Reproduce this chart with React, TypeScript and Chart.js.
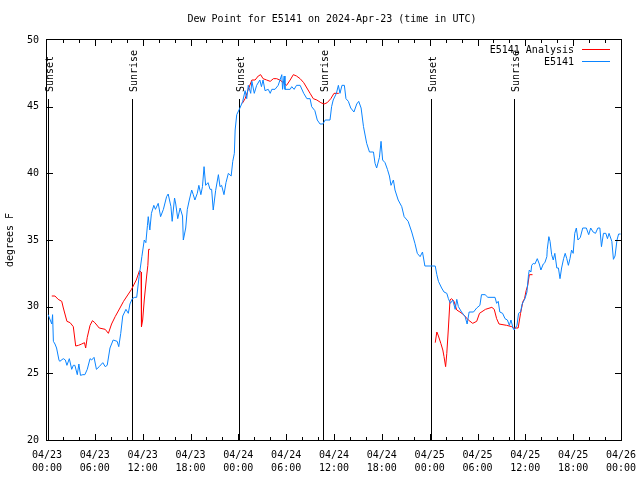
import React, { useEffect, useRef } from "react";
import { Chart, registerables } from "chart.js";

Chart.register(...registerables);

const TITLE = "Dew Point for E5141 on 2024-Apr-23 (time in UTC)";
const Y_LABEL = "degrees F";
const MONTH = "04";
const START_DAY = 23;

const legendLabels = ["E5141 Analysis", "E5141"];
const seriesColors = ["#ff0000", "#0a84ff"];

// Hours since 2024-04-23 00:00 UTC
const blueHours = [
  0.15, 0.4, 0.6, 0.7, 0.8, 1.0, 1.2, 1.5, 1.6, 2.05, 2.3, 2.5, 2.8, 3.1, 3.3, 3.5, 3.8, 4.0, 4.2, 4.5,
  4.75, 5.05, 5.4, 5.6, 5.9, 6.2, 6.55, 7.0, 7.3, 7.55, 7.9, 8.3, 8.8, 9.0, 9.25, 9.5, 9.9, 10.2, 10.4, 10.7,
  11.0, 11.25, 11.55, 11.9, 12.2, 12.4, 12.6, 12.7, 12.9, 13.1, 13.4, 13.6, 13.95, 14.25, 14.6, 15.0, 15.2, 15.55, 15.7, 16.0,
  16.15, 16.4, 16.7, 17.0, 17.1, 17.4, 17.6, 17.85, 18.15, 18.35, 18.55, 18.85, 19.05, 19.3, 19.5, 19.7, 19.9, 20.2, 20.45, 20.65,
  20.85, 21.15, 21.5, 21.7, 21.9, 22.2, 22.45, 22.75, 23.1, 23.3, 23.5, 23.6, 23.8, 24.2, 24.55, 24.85, 25.05, 25.25, 25.55, 25.7,
  26.0, 26.3, 26.7, 26.9, 27.1, 27.35, 27.75, 28.0, 28.2, 28.6, 29.0, 29.45, 29.55, 29.75, 29.85, 30.5, 30.7, 31.0, 31.3, 31.75,
  32.2, 32.6, 33.0, 33.2, 33.6, 33.9, 34.25, 34.6, 34.9, 35.5, 35.7, 35.9, 36.3, 36.55, 36.75, 37.0, 37.3, 37.5, 37.8, 38.1,
  38.5, 38.85, 39.1, 39.4, 39.7, 40.1, 40.45, 40.95, 41.15, 41.35, 41.7, 41.9, 42.1, 42.4, 42.7, 42.95, 43.15, 43.45, 43.65, 44.05,
  44.5, 44.8, 45.3, 45.75, 46.15, 46.45, 46.8, 47.1, 47.4, 48.7, 48.9, 49.1, 49.5, 49.8, 50.15, 50.35, 50.6, 50.9, 51.2, 51.4,
  51.6, 52.0, 52.45, 52.7, 52.95, 53.5, 53.9, 54.3, 54.5, 54.95, 55.3, 56.2, 56.4, 56.6, 56.8, 57.15, 57.45, 57.75, 58.0, 58.2,
  58.45, 58.6, 58.95, 59.15, 59.4, 59.6, 59.95, 60.2, 60.4, 60.5, 60.7, 60.8, 61.0, 61.2, 61.5, 61.75, 61.95, 62.25, 62.45, 62.7,
  62.75, 62.95, 63.1, 63.3, 63.5, 63.7, 63.95, 64.15, 64.35, 64.55, 64.8, 65.0, 65.2, 65.4, 65.6, 65.8, 66.0, 66.2, 66.4, 66.6,
  66.9, 67.2, 67.65, 67.95, 68.2, 68.5, 68.8, 69.1, 69.35, 69.55, 69.8, 70.1, 70.3, 70.5, 70.85, 71.05, 71.25, 71.5, 71.7, 71.95,
];
const blueValues = [
  29.4, 29.0, 28.7, 29.4, 27.4, 27.2, 26.9, 26.0, 25.9, 26.1, 26.0, 25.6, 26.1, 25.3, 25.6, 25.6, 24.9, 25.7, 24.85, 24.9,
  24.9, 25.3, 26.1, 26.0, 26.2, 25.3, 25.5, 25.8, 25.5, 25.6, 26.9, 27.5, 27.4, 27.0, 28.0, 29.3, 29.8, 29.5, 30.2, 30.6,
  30.7, 30.7, 32.25, 33.75, 35.0, 34.8, 36.1, 36.75, 35.75, 37.0, 37.6, 37.3, 37.75, 36.75, 37.3, 38.25, 38.45, 37.5, 36.4, 38.15,
  37.7, 36.6, 37.4, 36.8, 35.0, 35.9, 37.3, 38.0, 38.75, 38.4, 38.0, 38.5, 39.1, 38.4, 39.0, 40.5, 39.1, 39.3, 38.8, 38.8,
  37.25, 38.7, 39.9, 39.0, 39.1, 38.4, 39.3, 40.0, 39.8, 40.9, 41.5, 43.25, 44.4, 44.9, 45.4, 46.2, 45.6, 46.6, 46.0, 46.9,
  46.0, 46.6, 47.0, 46.5, 47.0, 46.2, 46.3, 46.0, 46.3, 46.3, 46.6, 47.4, 46.3, 47.3, 46.3, 46.3, 46.5, 46.3, 46.6, 46.6,
  46.0, 45.6, 45.6, 45.0, 44.7, 44.0, 43.7, 43.7, 44.0, 44.0, 45.0, 45.5, 46.0, 46.6, 46.0, 46.6, 46.6, 45.6, 45.4, 44.9,
  44.6, 45.2, 45.4, 44.9, 43.5, 42.25, 41.6, 41.6, 40.75, 40.4, 41.2, 42.4, 41.0, 40.8, 40.3, 39.8, 39.1, 39.5, 38.75, 38.0,
  37.5, 36.75, 36.4, 35.6, 34.75, 34.0, 33.75, 34.1, 33.05, 33.05, 32.4, 31.9, 31.4, 31.1, 31.0, 30.6, 30.25, 30.5, 29.8, 30.55,
  30.0, 29.6, 29.25, 28.7, 29.6, 29.6, 29.9, 30.1, 30.9, 30.9, 30.7, 30.7, 30.25, 30.4, 29.6, 29.5, 29.1, 29.0, 28.6, 29.0,
  28.4, 28.25, 28.6, 29.5, 29.6, 30.2, 30.6, 31.1, 32.4, 32.75, 32.6, 33.1, 33.25, 33.2, 33.6, 33.2, 32.75, 33.2, 33.3, 33.75,
  34.3, 35.25, 34.9, 33.9, 33.5, 34.0, 32.9, 32.9, 32.1, 32.9, 33.6, 34.0, 33.6, 33.1, 33.6, 34.25, 34.0, 35.5, 35.9, 35.0,
  35.2, 35.9, 35.9, 35.4, 35.9, 35.6, 35.5, 35.9, 35.9, 34.5, 35.5, 35.5, 35.1, 35.5, 34.9, 33.55, 33.8, 35.0, 35.45, 35.45,
];

// null values mark gaps in the analysis series
const redHours = [
  0.6, 1.0, 1.4, 1.85, 2.05, 2.5, 2.9, 3.3, 3.6, 3.95, 4.35, 4.7, 4.85, 5.05, 5.4, 5.7, 6.0, 6.55, 7.3, 7.7,
  8.1, 8.55, 9.15, 9.6, 10.6, 11.2, 11.6, 11.8, 11.85, 12.0, 12.2, 12.5, 12.65, 12.75, 12.9, 13.0,
  24.5, 24.85, 25.25, 25.7, 26.1, 26.5, 26.8, 27.1, 27.55, 28.0, 28.4, 28.8, 29.2, 29.65, 30.05, 30.5, 30.9, 31.3, 31.75, 32.2,
  32.6, 33.0, 33.4, 33.85, 34.35, 34.75, 35.15, 35.6, 36.0, 36.6, 37.0,
  48.7, 48.9, 49.1, 49.4, 49.65, 49.8, 50.0, 50.15, 50.35, 50.55, 50.75, 51.05, 51.4, 51.8, 52.25, 52.85, 53.4, 53.9, 54.25, 55.0,
  55.8, 56.1, 56.4, 56.7, 57.65, 58.3, 58.5, 59.1, 59.4, 59.7, 59.9, 60.1, 60.3, 60.5, 60.9,
];
const redValues = [
  30.8, 30.8, 30.55, 30.4, 29.9, 28.9, 28.8, 28.5, 27.05, 27.1, 27.2, 27.3, 26.9, 27.7, 28.6, 28.95, 28.8, 28.4, 28.3, 28.0,
  28.7, 29.25, 29.9, 30.4, 31.3, 32.0, 32.7, 32.6, 28.5, 29.0, 30.5, 32.3, 33.1, 34.3, 34.3, null,
  45.25, 45.6, 46.3, 47.0, 47.0, 47.3, 47.4, 47.1, 47.0, 46.9, 47.1, 47.1, 47.0, 46.8, 46.6, 47.0, 47.4, 47.3, 47.1, 46.8,
  46.4, 46.0, 45.6, 45.5, 45.3, 45.2, 45.3, 45.6, 46.0, 46.0, null,
  27.3, 28.1, 27.8, 27.25, 26.75, 26.25, 25.5, 26.5, 28.4, 30.5, 30.6, 30.4, 29.75, 29.6, 29.4, 29.0, 28.75, 28.9, 29.5, 29.8,
  29.95, 29.8, 29.1, 28.7, 28.6, 28.5, 28.4, 28.4, 29.5, 30.4, 30.6, 31.2, 31.6, 32.4, 32.4,
];

const sunHours = [0.1, 10.63, 24.13, 34.62, 48.17, 58.58];
const sunLabels = ["Sunset", "Sunrise", "Sunset", "Sunrise", "Sunset", "Sunrise"];

const FONT_FAMILY = "'DejaVu Sans Mono', 'Liberation Mono', monospace";
const FONT = "10px " + FONT_FAMILY;

function fmtTick(v: number): string[] {
  const day = START_DAY + Math.floor(v / 24);
  const hr = Math.round(v % 24);
  return [MONTH + "/" + String(day).padStart(2, "0"), String(hr).padStart(2, "0") + ":00"];
}

const decorPlugin = {
  id: "decor",
  beforeDatasetsDraw(chart: any) {
    const { ctx, chartArea, scales } = chart;
    const x = scales.x;
    const y = scales.y;
    ctx.save();
    ctx.strokeStyle = "#000";
    ctx.lineWidth = 1;
    ctx.fillStyle = "#000";
    ctx.font = FONT;
    sunHours.forEach((h, i) => {
      const px = Math.round(x.getPixelForValue(h)) + 0.5;
      const ty = Math.round(y.getPixelForValue(45.55));
      ctx.beginPath();
      ctx.moveTo(px, chartArea.bottom);
      ctx.lineTo(px, ty);
      ctx.stroke();
      ctx.save();
      ctx.translate(px + 1.5, ty - 7);
      ctx.rotate(-Math.PI / 2);
      ctx.textAlign = "left";
      ctx.textBaseline = "middle";
      ctx.fillText(sunLabels[i], 0, 0);
      ctx.restore();
    });
    ctx.restore();
  },
  afterDraw(chart: any) {
    const { ctx, chartArea, scales } = chart;
    const { left, right, top, bottom } = chartArea;
    const x = scales.x;
    const y = scales.y;
    ctx.save();
    ctx.strokeStyle = "#000";
    ctx.lineWidth = 1;
    ctx.strokeRect(left - 0.5, top - 0.5, right - left + 1, bottom - top + 1);
    ctx.beginPath();
    for (let h = 2; h < 72; h += 2) {
      const px = Math.round(x.getPixelForValue(h)) + 0.5;
      const len = h % 6 === 0 ? 6 : 3;
      ctx.moveTo(px, bottom);
      ctx.lineTo(px, bottom - len);
      ctx.moveTo(px, top);
      ctx.lineTo(px, top + len);
    }
    for (let v = 25; v < 50; v += 5) {
      const py = Math.round(y.getPixelForValue(v)) + 0.5;
      ctx.moveTo(left, py);
      ctx.lineTo(left + 6, py);
      ctx.moveTo(right, py);
      ctx.lineTo(right - 6, py);
    }
    ctx.stroke();

    ctx.fillStyle = "#000";
    ctx.font = FONT;
    ctx.textAlign = "center";
    ctx.textBaseline = "middle";
    ctx.fillText(TITLE, 332, 19);

    ctx.save();
    ctx.translate(10, 240);
    ctx.rotate(-Math.PI / 2);
    ctx.fillText(Y_LABEL, 0, 0);
    ctx.restore();

    legendLabels.forEach((lab, i) => {
      const ly = 50 + i * 12;
      ctx.textAlign = "right";
      ctx.fillStyle = "#000";
      ctx.fillText(lab, 574, ly);
      ctx.strokeStyle = seriesColors[i];
      ctx.lineWidth = 1;
      ctx.beginPath();
      ctx.moveTo(582, ly - 0.5);
      ctx.lineTo(610, ly - 0.5);
      ctx.stroke();
    });
    ctx.restore();
  },
};

export default function App() {
  const ref = useRef<HTMLCanvasElement | null>(null);
  useEffect(() => {
    document.body.style.margin = "0";
    const canvas = ref.current;
    if (!canvas) return;
    const blueData = blueHours.map((h, i) => ({ x: h, y: blueValues[i] }));
    const redData = redHours.map((h, i) => ({ x: h, y: redValues[i] }));
    const chart = new Chart(canvas, {
      type: "line",
      data: {
        datasets: [
          {
            label: legendLabels[1],
            data: blueData,
            borderColor: seriesColors[1],
            borderWidth: 1,
            pointRadius: 0,
            tension: 0,
            spanGaps: false,
          },
          {
            label: legendLabels[0],
            data: redData,
            borderColor: seriesColors[0],
            borderWidth: 1,
            pointRadius: 0,
            tension: 0,
            spanGaps: false,
          },
        ],
      },
      options: {
        animation: false,
        responsive: false,
        maintainAspectRatio: false,
        devicePixelRatio: 1,
        layout: { padding: { top: 40, right: 19, bottom: 0, left: 0 } },
        plugins: { legend: { display: false }, title: { display: false }, tooltip: { enabled: false } },
        scales: {
          x: {
            type: "linear",
            min: 0,
            max: 72,
            grid: { display: false, drawTicks: false },
            border: { display: false },
            afterFit: (s: any) => {
              s.height = 40;
              s.paddingLeft = 0;
              s.paddingRight = 0;
            },
            ticks: {
              stepSize: 6,
              autoSkip: false,
              maxRotation: 0,
              padding: 9,
              color: "#000",
              font: { family: FONT_FAMILY, size: 10, lineHeight: 1.3 },
              callback: (v: any) => fmtTick(Number(v)),
            },
          },
          y: {
            min: 20,
            max: 50,
            grid: { display: false, drawTicks: false },
            border: { display: false },
            afterFit: (s: any) => {
              s.width = 47;
              s.paddingTop = 0;
              s.paddingBottom = 0;
            },
            ticks: {
              stepSize: 5,
              padding: 8,
              color: "#000",
              font: { family: FONT_FAMILY, size: 10 },
            },
          },
        },
      },
      plugins: [decorPlugin],
    });
    return () => chart.destroy();
  }, []);
  return (
    <div style={{ position: "absolute", left: 0, top: 0, width: 640, height: 480, background: "#fff" }}>
      <canvas ref={ref} width={640} height={480} />
    </div>
  );
}
